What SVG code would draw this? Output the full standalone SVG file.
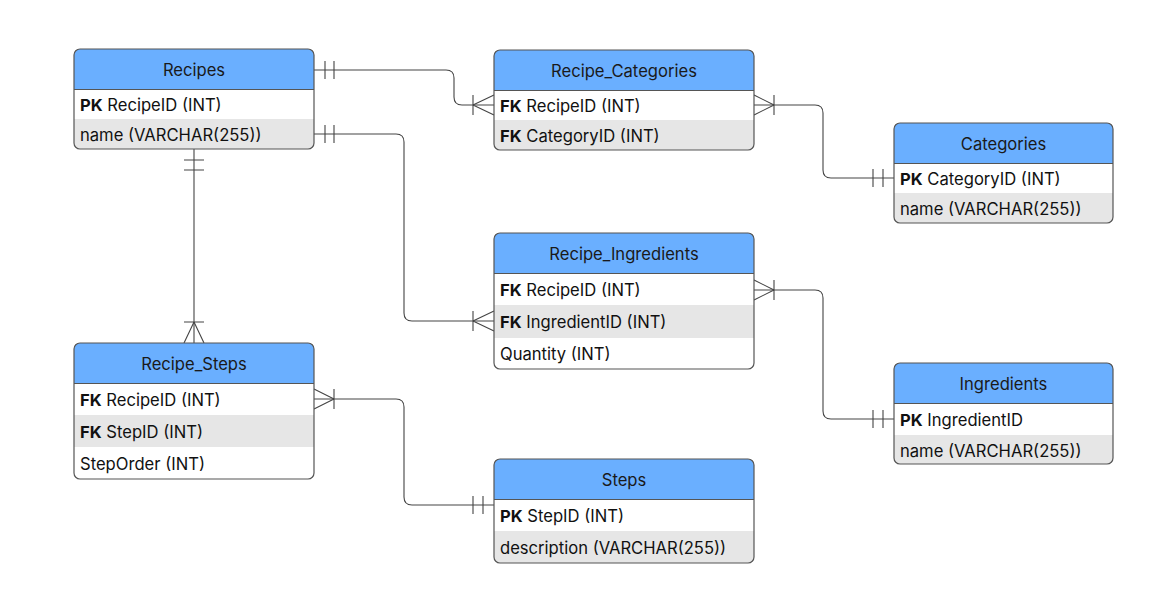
<svg xmlns="http://www.w3.org/2000/svg" width="1154" height="603" viewBox="0 0 1154 603">
<style>
.box{fill:none;stroke:#555;stroke-width:1.2}
.hdr{fill:#6aafff}
.alt{fill:#e6e6e6}
.sep{stroke:#555;stroke-width:1}
.title{font-family:Inter,"Noto Sans",sans-serif;font-size:16.6px;fill:#1a1a1a;text-anchor:middle}
.row{font-family:Inter,"Noto Sans",sans-serif;font-size:16.6px;fill:#111}
.b{font-weight:bold}
.conn{fill:none;stroke:#444;stroke-width:1.1}
</style>
<defs>
<clipPath id="c1"><rect x="74" y="49" width="240" height="100" rx="6"/></clipPath>
<clipPath id="c2"><rect x="494" y="50" width="260" height="100" rx="6"/></clipPath>
<clipPath id="c3"><rect x="894" y="123" width="219" height="100" rx="6"/></clipPath>
<clipPath id="c4"><rect x="494" y="233" width="260" height="136" rx="6"/></clipPath>
<clipPath id="c5"><rect x="74" y="343" width="240" height="136" rx="6"/></clipPath>
<clipPath id="c6"><rect x="894" y="363" width="219" height="101" rx="6"/></clipPath>
<clipPath id="c7"><rect x="494" y="459" width="260" height="104" rx="6"/></clipPath>
</defs>
<rect width="1154" height="603" fill="#fff"/>

<g id="connectors">
<path class="conn" d="M314,70 H446 Q454,70 454,78 V97 Q454,105 462,105 H494"/>
<path class="conn" d="M314,134 H396 Q404,134 404,142 V313 Q404,321 412,321 H494"/>
<path class="conn" d="M754,105 H815 Q823,105 823,113 V170 Q823,178 831,178 H894"/>
<path class="conn" d="M754,290 H815 Q823,290 823,298 V411 Q823,419 831,419 H894"/>
<path class="conn" d="M314,399 H396 Q404,399 404,407 V497 Q404,505 412,505 H494"/>
<path class="conn" d="M194,149 V343"/>
<path class="conn" d="M325,61 V79 M334,61 V79"/>
<path class="conn" d="M325,125 V143 M334,125 V143"/>
<path class="conn" d="M873,169 V187 M883,169 V187"/>
<path class="conn" d="M873,410 V428 M883,410 V428"/>
<path class="conn" d="M473,496 V514 M483,496 V514"/>
<path class="conn" d="M184,160 H204 M184,170 H204"/>
<path class="conn" d="M473,95 V115 M473,105 L494,95 M473,105 L494,115"/>
<path class="conn" d="M473,311 V331 M473,321 L494,311 M473,321 L494,331"/>
<path class="conn" d="M774,95 V115 M774,105 L754,95 M774,105 L754,115"/>
<path class="conn" d="M774,280 V300 M774,290 L754,280 M774,290 L754,300"/>
<path class="conn" d="M334,389 V409 M334,399 L314,389 M334,399 L314,409"/>
<path class="conn" d="M184,322 H204 M194,322 L184,343 M194,322 L204,343"/>
</g>

<g id="Recipes">
<g clip-path="url(#c1)">
<rect x="74" y="49" width="240" height="100" fill="#fff"/>
<rect class="hdr" x="74" y="49" width="240" height="40"/>
<rect class="alt" x="74" y="119" width="240" height="30"/>
</g>
<line class="sep" x1="74" y1="89.5" x2="314" y2="89.5"/>
<rect class="box" x="74" y="49" width="240" height="100" rx="6"/>
<text class="title" x="194" y="75.5">Recipes</text>
<text class="row" x="80" y="110.5"><tspan class="b">PK</tspan> RecipeID (INT)</text>
<text class="row" x="80" y="140.5">name (VARCHAR(255))</text>
</g>

<g id="Recipe_Categories">
<g clip-path="url(#c2)">
<rect x="494" y="50" width="260" height="100" fill="#fff"/>
<rect class="hdr" x="494" y="50" width="260" height="40"/>
<rect class="alt" x="494" y="120" width="260" height="30"/>
</g>
<line class="sep" x1="494" y1="90.5" x2="754" y2="90.5"/>
<rect class="box" x="494" y="50" width="260" height="100" rx="6"/>
<text class="title" x="624" y="76.5">Recipe_Categories</text>
<text class="row" x="500" y="111.5"><tspan class="b">FK</tspan> RecipeID (INT)</text>
<text class="row" x="500" y="141.5"><tspan class="b">FK</tspan> CategoryID (INT)</text>
</g>

<g id="Categories">
<g clip-path="url(#c3)">
<rect x="894" y="123" width="219" height="100" fill="#fff"/>
<rect class="hdr" x="894" y="123" width="219" height="40"/>
<rect class="alt" x="894" y="193" width="219" height="30"/>
</g>
<line class="sep" x1="894" y1="163.5" x2="1113" y2="163.5"/>
<rect class="box" x="894" y="123" width="219" height="100" rx="6"/>
<text class="title" x="1003.5" y="149.5">Categories</text>
<text class="row" x="900" y="184.5"><tspan class="b">PK</tspan> CategoryID (INT)</text>
<text class="row" x="900" y="214.5">name (VARCHAR(255))</text>
</g>

<g id="Recipe_Ingredients">
<g clip-path="url(#c4)">
<rect x="494" y="233" width="260" height="136" fill="#fff"/>
<rect class="hdr" x="494" y="233" width="260" height="40"/>
<rect class="alt" x="494" y="305" width="260" height="33"/>
</g>
<line class="sep" x1="494" y1="273.5" x2="754" y2="273.5"/>
<rect class="box" x="494" y="233" width="260" height="136" rx="6"/>
<text class="title" x="624" y="259.5">Recipe_Ingredients</text>
<text class="row" x="500" y="295.5"><tspan class="b">FK</tspan> RecipeID (INT)</text>
<text class="row" x="500" y="327.5"><tspan class="b">FK</tspan> IngredientID (INT)</text>
<text class="row" x="500" y="359.5">Quantity (INT)</text>
</g>

<g id="Recipe_Steps">
<g clip-path="url(#c5)">
<rect x="74" y="343" width="240" height="136" fill="#fff"/>
<rect class="hdr" x="74" y="343" width="240" height="40"/>
<rect class="alt" x="74" y="415" width="240" height="32"/>
</g>
<line class="sep" x1="74" y1="383.5" x2="314" y2="383.5"/>
<rect class="box" x="74" y="343" width="240" height="136" rx="6"/>
<text class="title" x="194" y="369.5">Recipe_Steps</text>
<text class="row" x="80" y="405.5"><tspan class="b">FK</tspan> RecipeID (INT)</text>
<text class="row" x="80" y="437.5"><tspan class="b">FK</tspan> StepID (INT)</text>
<text class="row" x="80" y="469.5">StepOrder (INT)</text>
</g>

<g id="Ingredients">
<g clip-path="url(#c6)">
<rect x="894" y="363" width="219" height="101" fill="#fff"/>
<rect class="hdr" x="894" y="363" width="219" height="40"/>
<rect class="alt" x="894" y="435" width="219" height="29"/>
</g>
<line class="sep" x1="894" y1="403.5" x2="1113" y2="403.5"/>
<rect class="box" x="894" y="363" width="219" height="101" rx="6"/>
<text class="title" x="1003.5" y="389.5">Ingredients</text>
<text class="row" x="900" y="425.5"><tspan class="b">PK</tspan> IngredientID</text>
<text class="row" x="900" y="456.5">name (VARCHAR(255))</text>
</g>

<g id="Steps">
<g clip-path="url(#c7)">
<rect x="494" y="459" width="260" height="104" fill="#fff"/>
<rect class="hdr" x="494" y="459" width="260" height="40"/>
<rect class="alt" x="494" y="531" width="260" height="32"/>
</g>
<line class="sep" x1="494" y1="499.5" x2="754" y2="499.5"/>
<rect class="box" x="494" y="459" width="260" height="104" rx="6"/>
<text class="title" x="624" y="485.5">Steps</text>
<text class="row" x="500" y="521.5"><tspan class="b">PK</tspan> StepID (INT)</text>
<text class="row" x="500" y="553.5">description (VARCHAR(255))</text>
</g>
</svg>
